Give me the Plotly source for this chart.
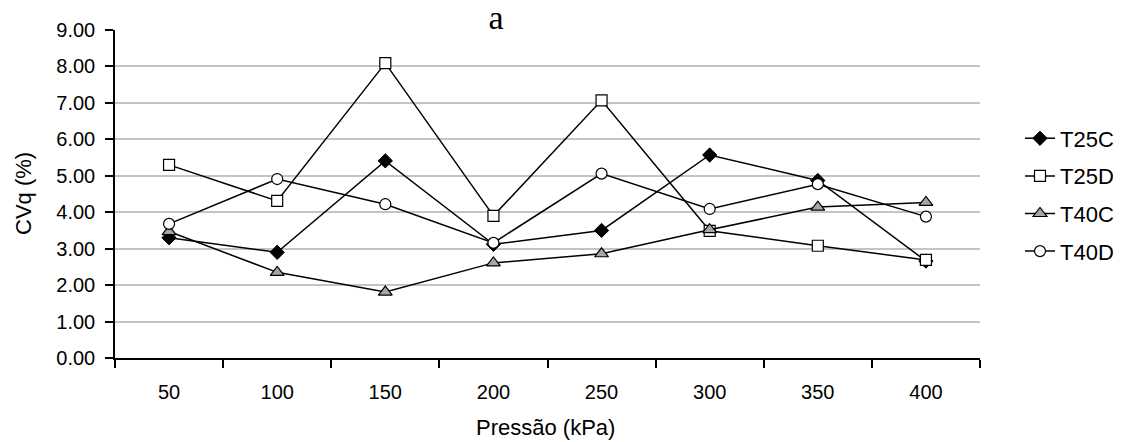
import plotly.graph_objects as go

categories = ["50", "100", "150", "200", "250", "300", "350", "400"]
t25c = [3.30, 2.90, 5.41, 3.12, 3.50, 5.57, 4.87, 2.66]
t25d = [5.30, 4.31, 8.09, 3.90, 7.07, 3.49, 3.08, 2.69]
t40c = [3.47, 2.35, 1.81, 2.61, 2.86, 3.52, 4.14, 4.27]
t40d = [3.68, 4.91, 4.22, 3.16, 5.06, 4.09, 4.77, 3.88]
y_ticks = [0, 1, 2, 3, 4, 5, 6, 7, 8, 9]

series = [
    ("T25C", t25c, dict(symbol="diamond", size=11, color="black", line=dict(color="black", width=1))),
    ("T25D", t25d, dict(symbol="square", size=11, color="white", line=dict(color="black", width=1.2))),
    ("T40C", t40c, dict(symbol="triangle-up", size=12, color="#a6a6a6", line=dict(color="black", width=1.2))),
    ("T40D", t40d, dict(symbol="circle", size=11, color="white", line=dict(color="black", width=1.2))),
]

fig = go.Figure()
for name, vals, mk in series:
    fig.add_trace(go.Scatter(
        x=categories, y=vals, name=name, mode="lines+markers",
        line=dict(color="black", width=1.5), marker=mk, legendgroup=name,
    ))

font_family = "Liberation Sans, Arial, sans-serif"
fig.update_layout(
    width=1127, height=442,
    margin=dict(l=115, r=147, t=30, b=84, autoexpand=False),
    paper_bgcolor="white", plot_bgcolor="white",
    font=dict(family=font_family, size=20, color="black"),
    showlegend=True,
    legend=dict(xref="container", x=1020/1127, xanchor="left",
                yref="container", y=1 - 195/442, yanchor="middle",
                font=dict(size=22, family=font_family), tracegroupgap=6,
                bgcolor="rgba(0,0,0,0)"),
    xaxis=dict(type="category", range=[-0.5, 7.5], tickson="boundaries",
               ticks="outside", ticklen=8, tickcolor="black", tickwidth=1.5,
               showline=True, linecolor="black", linewidth=1.5,
               showgrid=False, ticklabelstandoff=15,
               tickfont=dict(size=20)),
    yaxis=dict(range=[0, 9], tickvals=y_ticks, tickformat=".2f",
               ticks="outside", ticklen=8, tickcolor="black", tickwidth=1.5,
               showline=True, linecolor="black", linewidth=1.5,
               showgrid=True, gridcolor="#c4c4c4", gridwidth=1.6,
               zeroline=False, ticklabelstandoff=6,
               tickfont=dict(size=20)),
)

fig.add_annotation(text="a", xref="paper", yref="paper", x=(496-115)/865, y=1.0,
                   yanchor="middle", yshift=13, showarrow=False, width=58, height=30,
                   bgcolor="white", font=dict(family="Liberation Serif, Times New Roman, serif", size=34))
fig.add_annotation(text="CVq (%)", xref="paper", yref="paper", x=-(115-23)/865, y=0.5,
                   textangle=-90, showarrow=False, xanchor="center", yanchor="middle",
                   font=dict(size=22))
fig.add_annotation(text="Pressão (kPa)", xref="paper", yref="paper", x=(545-115)/865,
                   y=-(427-358)/328, showarrow=False, xanchor="center", yanchor="middle",
                   font=dict(size=22))

fig.write_html("out.html")
